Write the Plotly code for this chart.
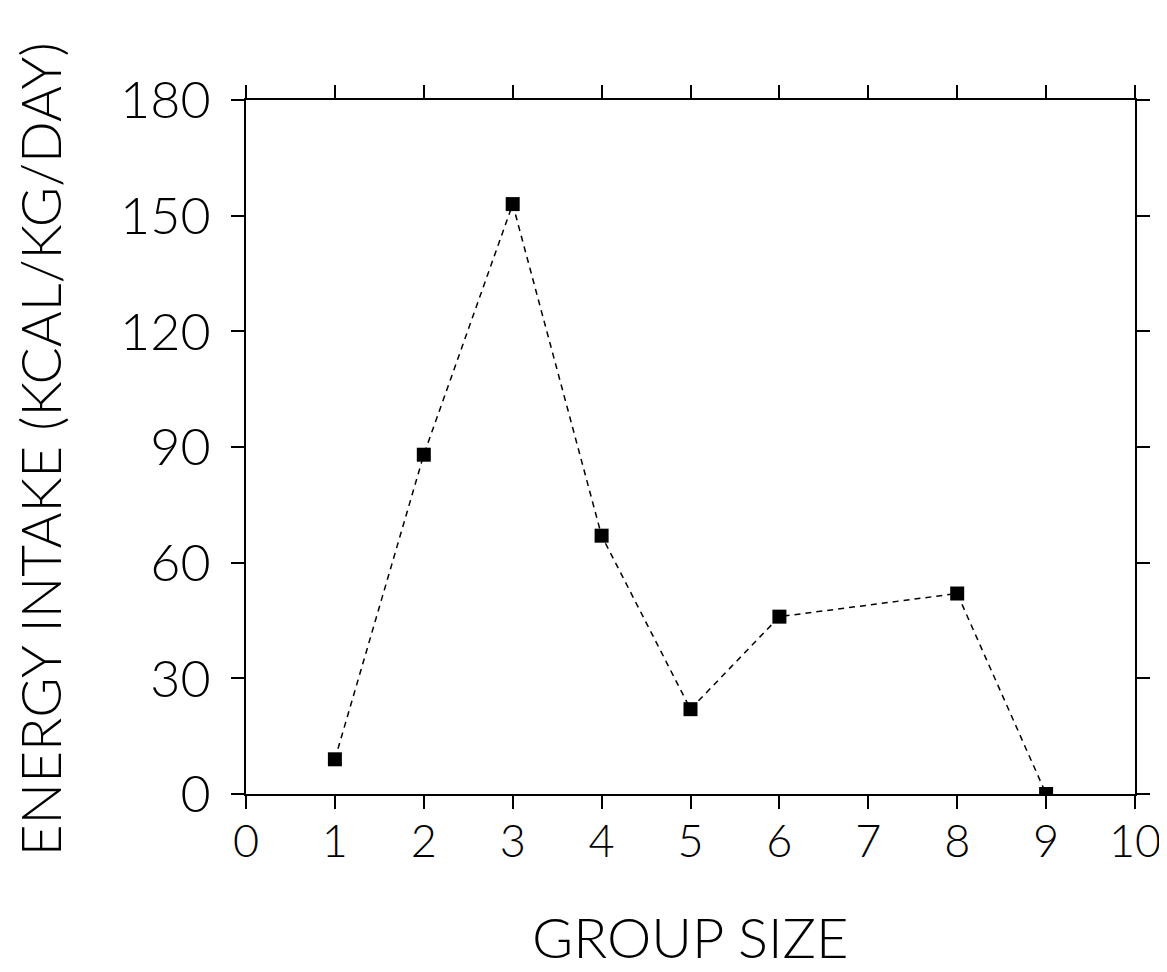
import plotly.graph_objects as go

group_size = [1, 2, 3, 4, 5, 6, 8, 9]
energy_intake = [9, 88, 153, 67, 22, 46, 52, 0]
x_ticks = [0, 1, 2, 3, 4, 5, 6, 7, 8, 9, 10]
y_ticks = [0, 30, 60, 90, 120, 150, 180]

FONT = "Lato"
W = 300

fig = go.Figure()
fig.add_trace(go.Scatter(
    x=group_size, y=energy_intake,
    mode="lines+markers",
    line=dict(color="black", width=1.5, dash="6px,5px"),
    marker=dict(symbol="square", size=14, color="black"),
    showlegend=False,
))

axis_common = dict(
    showgrid=False, zeroline=False, automargin=False,
    showline=True, linecolor="black", linewidth=2,
    mirror="ticks", ticks="outside", ticklen=13, tickwidth=2, tickcolor="black",
)

fig.update_layout(
    width=1167, height=972,
    margin=dict(l=238, r=40, t=92, b=186),
    paper_bgcolor="white", plot_bgcolor="white",
    xaxis=dict(range=[0, 10], tickvals=x_ticks, ticklabelstandoff=-6,
               tickfont=dict(family=FONT, size=45, color="black", weight=W),
               **axis_common),
    yaxis=dict(range=[0, 180], tickvals=y_ticks, ticklabelstandoff=10,
               tickfont=dict(family=FONT, size=52, color="black", weight=W),
               **axis_common),
    annotations=[
        dict(text="GROUP SIZE", xref="paper", yref="paper", x=0.5, y=-0.206,
             xanchor="center", yanchor="middle", showarrow=False,
             font=dict(family=FONT, size=56, color="black", weight=W)),
        dict(text="ENERGY INTAKE (KCAL/KG/DAY)", xref="paper", yref="paper",
             x=-0.2315, y=0.497, textangle=-90, xanchor="center", yanchor="middle",
             showarrow=False,
             font=dict(family=FONT, size=55, color="black", weight=W)),
    ],
)

fig.write_html("out.html")
